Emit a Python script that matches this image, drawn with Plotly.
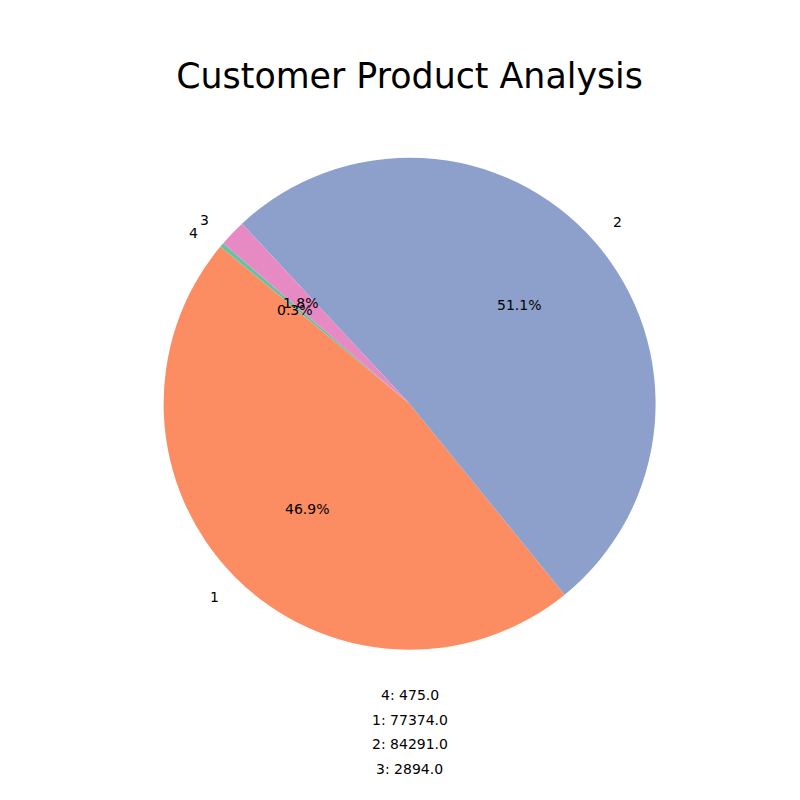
import math
import plotly.graph_objects as go

# ---- data ----
labels = ["4", "1", "2", "3"]
values = [475.0, 77374.0, 84291.0, 2894.0]
colors = ["#66c2a5", "#fc8d62", "#8da0cb", "#e78ac3"]
title_text = "Customer Product Analysis"

# ---- layout constants (pixels) ----
W = H = 800
CX, CY, R = 409.6, 403.7, 246
START_ANGLE = 140.3  # degrees, counterclockwise from 3 o'clock
FONT = "DejaVu Sans"

fig = go.Figure()
fig.add_trace(go.Pie(
    labels=labels,
    values=values,
    marker=dict(colors=colors, line=dict(width=0)),
    sort=False,
    direction="counterclockwise",
    rotation=90 - START_ANGLE,
    textinfo="none",
    hoverinfo="label+value+percent",
    showlegend=False,
    domain=dict(x=[(CX - R) / W, (CX + R) / W], y=[1 - (CY + R) / H, 1 - (CY - R) / H]),
))

def px_to_paper(x, y):
    return x / W, 1 - y / H

total = sum(values)
annotations = []
theta = START_ANGLE
for lab, v in zip(labels, values):
    span = 360.0 * v / total
    mid = math.radians(theta + span / 2)
    theta += span
    # outer label at 1.1 R
    lx = CX + 1.1 * R * math.cos(mid)
    ly = CY - 1.1 * R * math.sin(mid)
    px, py = px_to_paper(lx, ly)
    annotations.append(dict(
        x=px, y=py, xref="paper", yref="paper", text=lab, showarrow=False,
        xanchor="left" if math.cos(mid) > 0 else "right", yanchor="middle",
        font=dict(family=FONT, size=14, color="black"),
    ))
    # percentage at 0.6 R
    tx = CX + 0.6 * R * math.cos(mid)
    ty = CY - 0.6 * R * math.sin(mid)
    px, py = px_to_paper(tx, ty)
    annotations.append(dict(
        x=px, y=py, xref="paper", yref="paper", text="%1.1f%%" % (100 * v / total),
        showarrow=False, xanchor="center", yanchor="middle",
        font=dict(family=FONT, size=14, color="black"),
    ))

# summary lines below pie
LINE_Y0, LINE_DY = 695, 24.7
for i, (lab, v) in enumerate(zip(labels, values)):
    px, py = px_to_paper(CX, LINE_Y0 + i * LINE_DY)
    annotations.append(dict(
        x=px, y=py, xref="paper", yref="paper", text=f"{lab}: {v:.1f}",
        showarrow=False, xanchor="center", yanchor="middle",
        font=dict(family=FONT, size=14, color="black"),
    ))

fig.update_layout(
    width=W, height=H,
    margin=dict(l=0, r=0, t=0, b=0),
    paper_bgcolor="white", plot_bgcolor="white",
    title=dict(text=title_text, x=CX / W, xanchor="center", y=1 - 76 / H, yanchor="middle",
               font=dict(family=FONT, size=34.8, color="black")),
    annotations=annotations,
)

fig.write_html("out.html")
